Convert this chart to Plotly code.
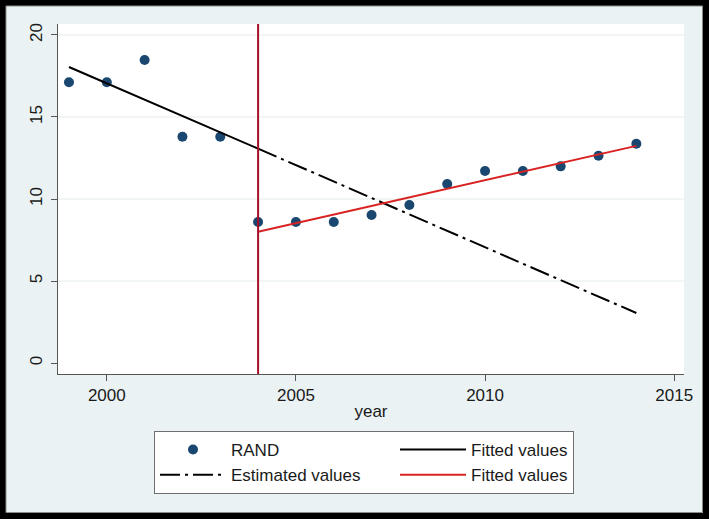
import plotly.graph_objects as go

# ---- data ----
years = [1999, 2000, 2001, 2002, 2003, 2004, 2005, 2006, 2007, 2008, 2009, 2010, 2011, 2012, 2013, 2014]
rand = [17.12, 17.12, 18.48, 13.80, 13.80, 8.60, 8.60, 8.60, 9.02, 9.63, 10.91, 11.71, 11.71, 11.99, 12.64, 13.37]

fit_pre_years = [1999, 2004]
fit_pre = [18.05, 13.07]

est_years = [2004, 2014]
est_values = [13.07, 3.05]

fit_post_years = [2004, 2014]
fit_post = [8.00, 13.24]

break_year = 2004
x_ticks = [2000, 2005, 2010, 2015]
y_ticks = [0, 5, 10, 15, 20]
grid_values = [5, 10, 15, 20]

# ---- layout geometry ----
W, H = 709, 519
ML, MR, MT, MB = 58, 25, 24, 145
PW, PH = W - ML - MR, H - MT - MB


def px_x(p):
    return (p - ML) / PW


def px_y(p):
    return (H - MB - p) / PH


BG = "#eaf2f3"
NAVY = "#1a476f"
FONT = "Liberation Sans, Arial, sans-serif"
COL1_W = 159  # legend first-column text slot width (px)

fig = go.Figure()
fig.add_trace(go.Scatter(x=years, y=rand, mode="markers", name="RAND",
                         marker=dict(color=NAVY, size=10), legendwidth=COL1_W))
fig.add_trace(go.Scatter(x=fit_pre_years, y=fit_pre, mode="lines", name="Fitted values",
                         line=dict(color="black", width=2)))
fig.add_trace(go.Scatter(x=est_years, y=est_values, mode="lines", name="Estimated values",
                         line=dict(color="black", width=2, dash="20px,5px,3px,5px"),
                         legendwidth=COL1_W))
fig.add_trace(go.Scatter(x=fit_post_years, y=fit_post, mode="lines", name="Fitted values",
                         line=dict(color="#d92323", width=2)))

shapes = []
for g in grid_values:
    shapes.append(dict(type="line", xref="paper", yref="y", x0=0, x1=1, y0=g, y1=g,
                       line=dict(color="#e4ecee", width=1), layer="below"))
shapes.append(dict(type="line", xref="x", yref="paper", x0=break_year, x1=break_year, y0=0, y1=1,
                   line=dict(color="#a8102a", width=2), layer="above"))
# outer black frame
shapes.append(dict(type="rect", xref="paper", yref="paper",
                   x0=px_x(3), x1=px_x(706), y0=px_y(516), y1=px_y(3),
                   line=dict(color="black", width=6), layer="above"))
shapes.append(dict(type="rect", xref="paper", yref="paper",
                   x0=px_x(6), x1=px_x(702.5), y0=px_y(512.5), y1=px_y(6),
                   line=dict(color="#8a8a8a", width=1), layer="above"))

fig.update_layout(
    width=W, height=H,
    margin=dict(l=ML, r=MR, t=MT, b=MB, autoexpand=False),
    paper_bgcolor=BG, plot_bgcolor="white",
    font=dict(family=FONT, size=17, color="#1a1a1a"),
    shapes=shapes,
    showlegend=True,
    legend=dict(orientation="h", x=px_x(154), y=px_y(431), xanchor="left", yanchor="top",
                bgcolor="white", bordercolor="#6e6e6e", borderwidth=1,
                font=dict(family=FONT, size=17, color="#1a1a1a"),
                itemwidth=66, traceorder="normal", tracegroupgap=0),
    xaxis=dict(range=[1998.71, 2015.26], tickvals=x_ticks, showgrid=False, zeroline=False,
               showline=True, linecolor="#555555", linewidth=1, ticks="outside", ticklen=6,
               tickcolor="#555555", tickfont=dict(size=17), ticklabelstandoff=0,
               title=dict(text="year", font=dict(size=17), standoff=0)),
    yaxis=dict(range=[-0.67, 20.67], tickvals=y_ticks, showgrid=False, zeroline=False,
               showline=True, linecolor="#555555", linewidth=1, ticks="outside", ticklen=6,
               tickcolor="#555555", tickangle=-90, tickfont=dict(size=17),
               ticklabelstandoff=2),
)

fig.write_html("out.html", config={"displayModeBar": False},
               post_script="document.body.style.margin='0px';document.body.style.background='%s';" % BG)
